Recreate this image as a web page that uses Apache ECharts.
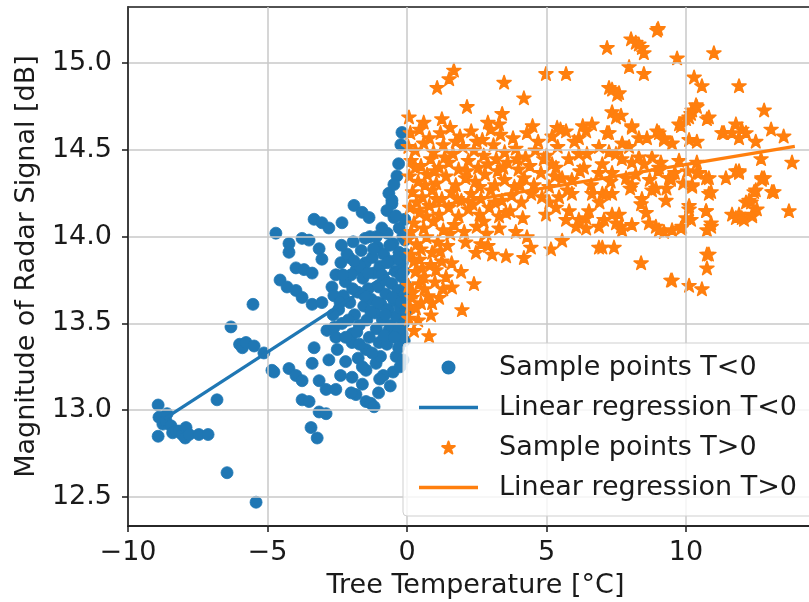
<!DOCTYPE html>
<html>
<head>
<meta charset="utf-8">
<style>
html,body{margin:0;padding:0;background:#fff;}
#chart{width:809px;height:602px;}
</style>
<script src="https://cdn.jsdelivr.net/npm/echarts@6/dist/echarts.min.js"></script>
</head>
<body>
<div id="chart"></div>
<script>
// ---- data ----
const xTicks = [-10, -5, 0, 5, 10];
const yTicks = [12.5, 13.0, 13.5, 14.0, 14.5, 15.0];
const seriesNames = ['Sample points T<0', 'Linear regression T<0', 'Sample points T>0', 'Linear regression T>0'];
const xTitle = 'Tree Temperature [°C]';
const yTitle = 'Magnitude of Radar Signal [dB]';

const blueSamples = [
[-8.92,13.03],[-8.89,12.96],[-8.92,12.85],[-8.75,12.92],[-8.64,12.94],[-8.6,12.98],[-8.46,12.91],[-8.4,12.87],[-8.28,12.88],[-8.17,12.88],[-8.06,12.86],[-7.95,12.84],[-7.92,12.9],[-7.81,12.86],[-7.46,12.86],[-7.13,12.86],
[-6.81,13.06],[-6.45,12.64],[-5.41,12.47],
[-6.31,13.48],[-6.0,13.38],[-5.9,13.36],[-5.77,13.39],[-5.52,13.61],[-5.48,13.37],[-5.13,13.33],[-4.84,13.23],[-4.7,14.02],[-4.55,13.75],
[-3.33,14.1],[-3.05,14.08],[-2.8,14.05],[-2.33,14.08],[-1.9,14.18],[-1.61,14.14],[-1.36,14.11],[-0.65,14.25],[-0.54,14.19],[-0.47,14.11],
[-4.23,13.96],[-4.23,13.91],[-3.76,13.99],[-3.51,13.98],[-3.15,13.93],[-3.05,13.87],[-3.98,13.82],[-3.69,13.81],[-3.4,13.79],
[-4.3,13.71],[-3.98,13.69],[-3.76,13.65],[-3.4,13.61],[-3.05,13.62],[-2.69,13.71],[-2.62,13.66],[-2.37,13.85],[-2.08,13.88],
[-2.87,13.46],[-2.55,13.42],[-1.97,13.39],[-1.47,13.35],[-1.0,13.39],[-0.65,13.46],[-0.18,13.44],
[-3.33,13.36],[-3.4,13.27],[-2.8,13.29],
[-4.77,13.22],[-4.23,13.24],[-3.98,13.2],[-3.76,13.17],[-3.15,13.17],[-2.9,13.12],[-2.55,13.12],[-1.97,13.19],[-1.47,13.23],[-1.11,13.27],[-0.39,13.31],
[-3.76,13.06],[-3.51,13.05],[-3.15,12.99],[-2.9,12.98],[-1.83,13.09],[-1.47,13.05],[-1.3,13.04],[-1.18,13.02],[-3.44,12.9],[-3.22,12.84],
[-0.18,14.6],[-0.22,14.53],[-0.3,14.42],[-0.36,14.35],[-0.47,14.3],[-0.54,14.21],[-0.72,14.15],[-0.1,13.4],[-0.14,13.29],
[-2.21,13.74],[-2.05,13.62],[-1.93,13.97],[-1.88,13.55],[-1.82,13.81],[-1.76,13.68],[-1.71,13.49],[-1.64,13.92],[-1.58,13.76],[-1.55,13.6],
[-1.49,13.85],[-1.44,13.52],[-1.39,13.7],[-1.33,14.0],[-1.28,13.64],[-1.24,13.88],[-1.19,13.79],[-1.15,13.56],[-1.1,13.47],[-1.06,13.94],
[-1.01,13.71],[-0.97,13.83],[-0.93,13.61],[-0.88,13.52],[-0.84,13.9],[-0.8,13.75],[-0.76,13.67],[-0.71,14.02],[-0.67,13.58],[-0.63,13.86],
[-0.58,13.49],[-0.55,13.73],[-0.5,13.96],[-0.46,13.63],[-0.42,13.8],[-0.38,13.54],[-0.33,13.69],[-0.29,13.91],[-0.25,13.59],[-0.21,13.77],
[-0.17,13.85],[-0.13,13.5],[-0.1,13.66],[-0.07,13.98],[-0.05,13.72],[-0.04,13.57],
[-2.45,13.58],[-2.33,13.5],[-2.28,13.66],[-2.15,13.9],[-2.0,13.78],[-1.97,13.44],[-1.7,13.38],[-1.35,13.42],[-0.95,13.31],[-0.72,13.38],
[-0.5,13.22],[-0.3,13.36],[-2.2,13.28],[-1.75,13.3],[-1.6,13.15],[-0.85,13.2],[-2.38,13.2],[-1.02,13.1],[-0.6,13.14],[-0.25,13.25],
[-0.08,14.1],[-0.15,14.0],[-0.28,14.05],[-0.9,14.05],[-1.1,14.0],[-2.55,13.78],[-2.65,13.55],[-2.5,13.35],[-2.35,13.95],[-1.5,13.99],[-0.4,14.12],
[-2.1,13.52],[-1.95,13.7],[-1.8,13.45],[-1.68,13.83],[-1.52,13.66],[-1.3,13.57],[-1.2,13.93],[-1.05,13.62],[-0.9,13.78],[-0.78,13.55],
[-0.62,13.95],[-0.52,13.65],[-0.35,13.87],[-0.2,13.62],[-0.12,13.8],[-0.06,13.9],[-0.3,13.47],[-0.7,13.85],[-1.4,13.79],[-1.9,13.86],
[-2.3,13.78],[-2.4,13.62],[-2.6,13.48],[-2.2,13.42],[-1.25,13.33],[-0.82,13.43],[-0.45,13.42],[-1.6,13.25],[-2.0,13.1],[-0.98,13.18]
];

const orangeSamples = [
[1.68,14.96],[1.51,14.91],[1.08,14.86],[3.48,14.89],[4.19,14.8],[4.98,14.94],[5.7,14.94],
[9.0,15.2],[8.03,15.14],[8.2,15.12],[8.42,15.09],[8.49,15.06],[7.17,15.09],[9.68,15.03],[11.0,15.06],
[7.96,14.98],[8.49,14.94],[7.24,14.86],[7.6,14.83],[10.29,14.92],[10.57,14.87],[11.9,14.87],[12.8,14.73],
[10.36,14.76],[10.18,14.71],[10.0,14.68],[9.75,14.65],[10.75,14.68],[7.35,14.72],[7.67,14.7],
[8.06,14.64],[7.24,14.6],[8.31,14.57],[8.96,14.61],[9.21,14.57],[11.79,14.65],[12.0,14.62],[11.36,14.6],[11.9,14.57],[13.05,14.62],[13.5,14.58],
[7.71,14.54],[10.39,14.55],[12.5,14.55],[13.8,14.43],[12.69,14.45],[11.9,14.38],[11.43,14.34],[12.72,14.34],[9.46,14.34],[9.1,14.43],
[2.15,14.75],[0.07,14.69],[1.25,14.68],[3.41,14.71],[3.3,14.65],
[8.92,14.28],[10.22,14.3],[13.08,14.26],[10.9,14.26],[12.44,14.26],[12.15,14.2],[13.69,14.15],[11.9,14.13],[11.79,14.11],[12.08,14.1],
[12.37,14.12],[12.54,14.16],[12.33,14.2],[10.72,14.15],[10.11,14.16],[10.18,14.1],[10.9,14.08],[10.75,14.04],[8.42,14.22],[8.57,14.14],
[8.67,14.08],[8.92,14.06],[9.21,14.03],[9.5,14.04],[9.82,14.05],[7.6,14.13],[7.67,14.06],[7.06,14.1],[8.06,14.07],[7.0,14.25],[7.35,14.25],
[7.0,13.94],[7.42,13.94],[8.39,13.85],[9.46,13.75],[10.11,13.72],[10.57,13.7],[10.75,13.9],[10.75,13.82],
[7.24,14.49],[8.06,14.43],[9.03,14.4],[10.39,14.43],[10.47,14.37],[10.82,14.34],[9.39,14.34],
[6.63,14.65],[6.42,14.61],[7.17,14.6],[6.16,14.57],[5.7,14.61],[5.38,14.63],[6.16,14.48],[6.88,14.52],[7.49,14.48],[7.96,14.52],
[8.31,14.46],[8.78,14.46],[9.21,14.56],[6.34,14.4],[6.88,14.37],[7.35,14.37],[7.85,14.34],[8.06,14.3],[5.91,14.33],[5.91,14.25],
[6.63,14.25],[7.13,14.25],[7.35,14.13],[6.52,14.15],[6.88,14.06],[7.49,14.08],[7.71,14.04],[6.42,14.11],[6.06,14.06],[6.42,14.05],
[5.34,14.4],[5.56,14.34],[5.09,14.29],[5.34,14.17],[5.81,14.15],[5.7,14.1],[6.16,14.1],[4.98,14.13],[5.45,14.23],[4.84,14.23],
[13.15,14.26],[12.8,14.34],[11.79,14.38],[11.65,14.6],[12.15,14.6],[11.29,14.6],[10.82,14.69],[10.22,14.73],[10.39,14.75],[10.11,14.69],[9.82,14.64],
[10.72,14.34],[10.39,14.37],[10.22,14.29],[10.82,14.25],[10.72,14.15],[10.11,14.18],[10.9,14.06],[10.82,13.9],[9.5,13.75],
[12.26,14.21],[12.5,14.27],[11.65,14.13],[12.0,14.11],[12.37,14.13],[12.72,14.33],[11.9,14.37],
[9.46,14.33],[9.28,14.21],[8.78,14.27],[8.39,14.19],[9.03,14.04],[9.86,14.06],[10.0,14.11],
[10.11,14.56],[9.5,14.54],[9.03,14.6],[8.6,14.57],[8.06,14.63],[7.49,14.69],[7.35,14.85],[7.53,14.82],[8.31,15.11],[8.96,15.19],
[0.12,14.6],[0.45,14.62],[0.8,14.57],[1.2,14.6],[1.55,14.63],[1.9,14.58],[2.3,14.61],[2.7,14.56],[3.0,14.62],[3.35,14.59],[3.8,14.57],[4.3,14.6],[4.7,14.55],[5.2,14.58],[5.5,14.62],[6.0,14.55],
[0.05,14.52],[0.3,14.5],[0.6,14.54],[0.95,14.49],[1.3,14.53],[1.65,14.48],[2.0,14.52],[2.4,14.5],[2.75,14.47],[3.1,14.53],[3.5,14.49],[3.9,14.51],[4.25,14.46],[4.6,14.5],[5.0,14.47],[5.4,14.52],[5.8,14.45],
[0.15,14.44],[0.5,14.41],[0.85,14.45],[1.15,14.4],[1.5,14.43],[1.85,14.39],[2.2,14.44],[2.55,14.4],[2.9,14.42],[3.25,14.38],[3.6,14.43],[4.0,14.39],[4.4,14.41],[4.8,14.37],[5.2,14.42],
[0.08,14.35],[0.4,14.32],[0.72,14.36],[1.05,14.31],[1.4,14.35],[1.75,14.3],[2.1,14.34],[2.45,14.32],[2.8,14.36],[3.15,14.3],[3.5,14.33],[3.85,14.29],[4.2,14.34],[4.55,14.3],
[0.2,14.26],[0.55,14.23],[0.9,14.27],[1.25,14.22],[1.6,14.26],[1.95,14.21],[2.3,14.25],[2.65,14.22],[3.0,14.27],[3.4,14.21],[3.75,14.24],[4.1,14.2],[4.45,14.25],
[0.1,14.17],[0.45,14.14],[0.8,14.18],[1.15,14.13],[1.5,14.17],[1.85,14.12],[2.2,14.16],[2.6,14.13],[2.95,14.17],[3.3,14.12],[3.7,14.15],[4.15,14.11],
[0.25,14.08],[0.6,14.05],[0.95,14.09],[1.3,14.04],[1.7,14.07],[2.05,14.03],[2.5,14.06],[2.85,14.02],[3.3,14.05],[3.9,14.03],[4.3,14.0],
[0.05,13.99],[0.35,13.96],[0.7,14.0],[1.1,13.97],[1.45,13.95],[2.1,13.97],[2.9,13.95],
[0.15,13.9],[0.45,13.87],[0.9,13.91],[1.25,13.86],[0.3,13.8],[0.6,13.77],[0.05,13.72],[1.0,13.74],[0.2,13.68],[0.75,13.66],[0.1,13.6],[0.5,13.62],
[1.94,13.8],[2.4,13.73],[1.61,13.71],[1.15,13.65],[0.9,13.62],[1.97,13.58],[0.86,13.55],[0.07,13.53],[0.79,13.43],[0.43,13.73],
[0.54,13.82],[0.18,13.65],[0.32,13.59],[1.04,13.81],[1.4,13.77],[0.25,13.46],
[4.44,13.94],[4.19,13.88],[3.55,13.89],[3.05,13.9],[2.47,13.91],[2.65,13.96],[5.16,13.93],[5.56,13.98],[6.88,13.94],
[0.6,14.66],[2.9,14.66],[4.5,14.64],[6.3,14.64],
[4.9,14.45],[5.3,14.35],[5.75,14.27],[6.2,14.38],[6.6,14.3],[7.0,14.42],[6.9,14.2],[5.1,14.2],[6.45,14.48],[7.7,14.45],[7.3,14.32],
[8.2,14.36],[8.7,14.33],[9.0,14.38],[9.6,14.37],[9.9,14.31],[8.5,14.42],[9.3,14.28],[9.75,14.44],[10.05,14.38],[8.0,14.28],
[0.3,14.4],[0.65,14.3],[0.35,14.2],[0.7,14.12],[0.15,14.03],[0.5,13.93],[0.85,13.84],[1.2,13.92],[1.55,14.02],[1.05,14.22],
[1.35,14.46],[1.75,14.55],[2.15,14.38],[2.6,14.29],[2.35,14.19],[1.8,14.22],[2.75,14.09],[3.15,14.2],[3.55,14.14],[3.45,14.4],
[3.95,14.45],[4.05,14.3],[3.2,14.45],[2.5,14.55],[1.0,14.38],[0.25,13.86],[0.62,13.7],[0.4,13.52],[1.3,13.7],[1.6,13.85]
];

const blueFitX = [-8.7, -0.05];
const blueFitY = [12.95, 13.85];
const orangeFitX = [0.05, 13.9];
const orangeFitY = [14.15, 14.52];

// ---- chart ----
const BLUE = '#1f77b4', ORANGE = '#ff7f0e', INK = '#1a1a1a';
const FONT = 'DejaVu Sans';
const STAR = 'path://M50 0L61.23 34.55L97.55 34.55L68.16 55.9L79.39 90.45L50 69.1L20.61 90.45L31.84 55.9L2.45 34.55L38.77 34.55Z';
const LINE_ICON = 'path://M0 0H59V3.5H0Z';
const minus = v => (v < 0 ? '\u2212' + Math.abs(v) : String(v));

const chart = echarts.init(document.getElementById('chart'), null, {renderer: 'canvas'});
chart.setOption({
  animation: false,
  backgroundColor: '#fff',
  grid: {
    left: 128, right: -14, top: 7, bottom: 76,
    show: true, borderColor: INK, borderWidth: 1.5, backgroundColor: '#fff',
    outerBoundsMode: 'none', containLabel: false
  },
  xAxis: {
    type: 'value', min: -10, max: 14.91, z: 3,
    axisLine: {show: true, onZero: false, lineStyle: {color: INK, width: 1.5}},
    axisTick: {show: true, inside: false, length: 6, lineStyle: {color: INK, width: 1.5}, customValues: xTicks},
    axisLabel: {customValues: xTicks, formatter: minus, fontSize: 27, fontFamily: FONT, color: INK, margin: 13},
    splitLine: {show: true, lineStyle: {color: '#c8c8c8', width: 1.5}},
    name: xTitle, nameLocation: 'middle', nameGap: 46,
    nameTextStyle: {fontSize: 27, fontFamily: FONT, color: INK}
  },
  yAxis: {
    type: 'value', min: 12.333, max: 15.323, z: 3,
    axisLine: {show: true, onZero: false, lineStyle: {color: INK, width: 1.5}},
    axisTick: {show: true, inside: false, length: 6, lineStyle: {color: INK, width: 1.5}, customValues: yTicks},
    axisLabel: {customValues: yTicks, formatter: v => v.toFixed(1), fontSize: 27, fontFamily: FONT, color: INK, margin: 16},
    splitLine: {show: true, lineStyle: {color: '#c8c8c8', width: 1.5}},
    name: yTitle, nameLocation: 'middle', nameGap: 85, nameRotate: 90,
    nameTextStyle: {fontSize: 27, fontFamily: FONT, color: INK}
  },
  legend: {
    orient: 'vertical', left: 403, top: 343, z: 10,
    data: [
      {name: seriesNames[0]},
      {name: seriesNames[1], icon: LINE_ICON},
      {name: seriesNames[2]},
      {name: seriesNames[3], icon: LINE_ICON}
    ],
    selectedMode: false,
    itemWidth: 59, itemHeight: 12, itemGap: 13,
    padding: [11, 20, 15, 16],
    backgroundColor: 'rgba(255,255,255,0.8)', borderColor: '#cfcfcf', borderWidth: 1, borderRadius: 4,
    textStyle: {fontSize: 27, fontFamily: FONT, color: INK, padding: [0, 0, 0, 16]}
  },
  series: [
    {name: seriesNames[0], type: 'scatter', z: 2, symbol: 'circle', symbolSize: 12,
     itemStyle: {color: BLUE, opacity: 1, borderColor: BLUE, borderWidth: 0.8}, data: blueSamples},
    {name: seriesNames[1], type: 'line', z: 4, symbol: 'none', showSymbol: false,
     lineStyle: {color: BLUE, width: 3.2}, itemStyle: {color: BLUE},
     data: blueFitX.map((x, i) => [x, blueFitY[i]])},
    {name: seriesNames[2], type: 'scatter', z: 2, symbol: STAR, symbolSize: 14, symbolKeepAspect: true,
     itemStyle: {color: ORANGE, opacity: 1, borderColor: ORANGE, borderWidth: 1.6, borderJoin: 'round'}, data: orangeSamples},
    {name: seriesNames[3], type: 'line', z: 4, symbol: 'none', showSymbol: false,
     lineStyle: {color: ORANGE, width: 3.2}, itemStyle: {color: ORANGE},
     data: orangeFitX.map((x, i) => [x, orangeFitY[i]])}
  ]
});
</script>
</body>
</html>
